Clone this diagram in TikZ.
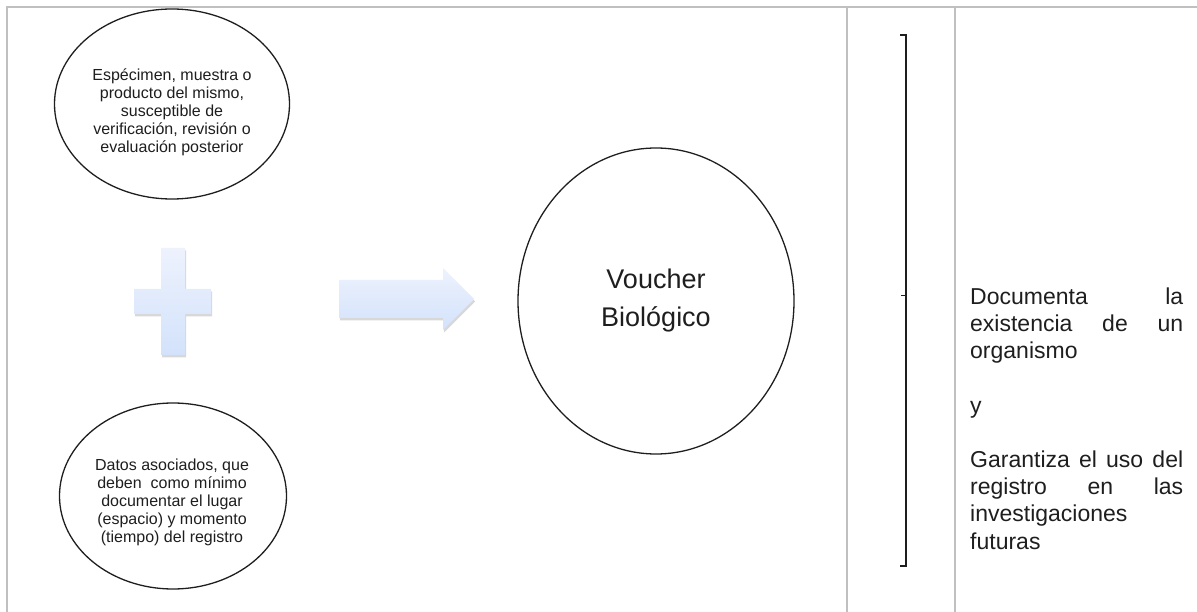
\documentclass[tikz,border=0pt]{standalone}
\usepackage{fontspec}
\setmainfont{Liberation Sans}
\usetikzlibrary{shapes.geometric,shadows}
\definecolor{rule}{HTML}{C0C0C0}
\definecolor{shapetop}{HTML}{EDF2FD}
\definecolor{shapebot}{HTML}{D3E2FB}
\definecolor{ink}{HTML}{1E1E1E}
\tikzset{
  tableline/.style={draw=rule, line width=2pt},
  oval/.style={draw=ink, line width=1.3pt, ellipse, inner sep=0pt},
  ovaltext/.style={align=center, inner sep=0pt, text=ink, font=\fontsize{16}{18}\selectfont},
  soft/.style={top color=shapetop, bottom color=shapebot, draw=none,
    drop shadow={shadow xshift=1pt, shadow yshift=-2.5pt, opacity=0.22, fill=black!70}},
  bracketline/.style={draw=ink, line width=2pt},
}
\newcommand{\fillline}[1]{\makebox[213pt][s]{#1}}
\begin{document}
\begin{tikzpicture}[x=1pt,y=-1pt]
\useasboundingbox (0,0) rectangle (1197,612);
% table rules
\draw[tableline] (7,612) -- (7,7) -- (1197,7);
\draw[tableline] (847,7) -- (847,612);
\draw[tableline] (955,7) -- (955,612);

% input ovals
\node[oval, minimum width=235pt, minimum height=190pt] (spec) at (172,104) {};
\node[ovaltext] (spectext) at (172,112)
  {Espécimen, muestra o\\producto del mismo,\\susceptible de\\verificación, revisión o\\evaluación posterior};
\node[oval, minimum width=227pt, minimum height=186pt] (data) at (173,496) {};
\node[ovaltext] (datatext) at (172,502)
  {Datos asociados, que\\deben\ \ como mínimo\\documentar el lugar\\(espacio) y momento\\(tiempo) del registro};

% plus sign
\path[soft] (161,248) -- (185,248) -- (185,289) -- (211,289) -- (211,314) -- (185,314)
  -- (185,355) -- (161,355) -- (161,314) -- (134,314) -- (134,289) -- (161,289) -- cycle;

% block arrow
\path[soft] (339,280) -- (443,280) -- (443,268) -- (474,299) -- (443,330) -- (443,318)
  -- (339,318) -- cycle;

% result oval
\node[oval, minimum width=276pt, minimum height=306pt, align=center, text=ink,
  font=\fontsize{27}{38}\selectfont] (voucher) at (656,301) {Voucher\\Biológico};

% bracket
\coordinate (bt) at (906,35);
\coordinate (bb) at (906,566);
\coordinate (bm) at (906,296);
\draw[bracketline] ([xshift=-6pt]bt) -- (bt) -- (bb) -- ([xshift=-6pt]bb);
\draw[draw=ink, line width=1pt] (bm) -- ([xshift=-5pt]bm);

% description (base anchor = baseline of the last line)
\node[anchor=base west, align=left, inner sep=0pt, text=ink,
  font=\fontsize{23}{27.2}\selectfont] (desc) at (970,549)
  {\fillline{Documenta la}\\
   \fillline{existencia de un}\\
   organismo\\[27.2pt]
   y\\[27.2pt]
   \fillline{Garantiza el uso del}\\
   \fillline{registro en las}\\
   investigaciones\\
   futuras};
\end{tikzpicture}
\end{document}
